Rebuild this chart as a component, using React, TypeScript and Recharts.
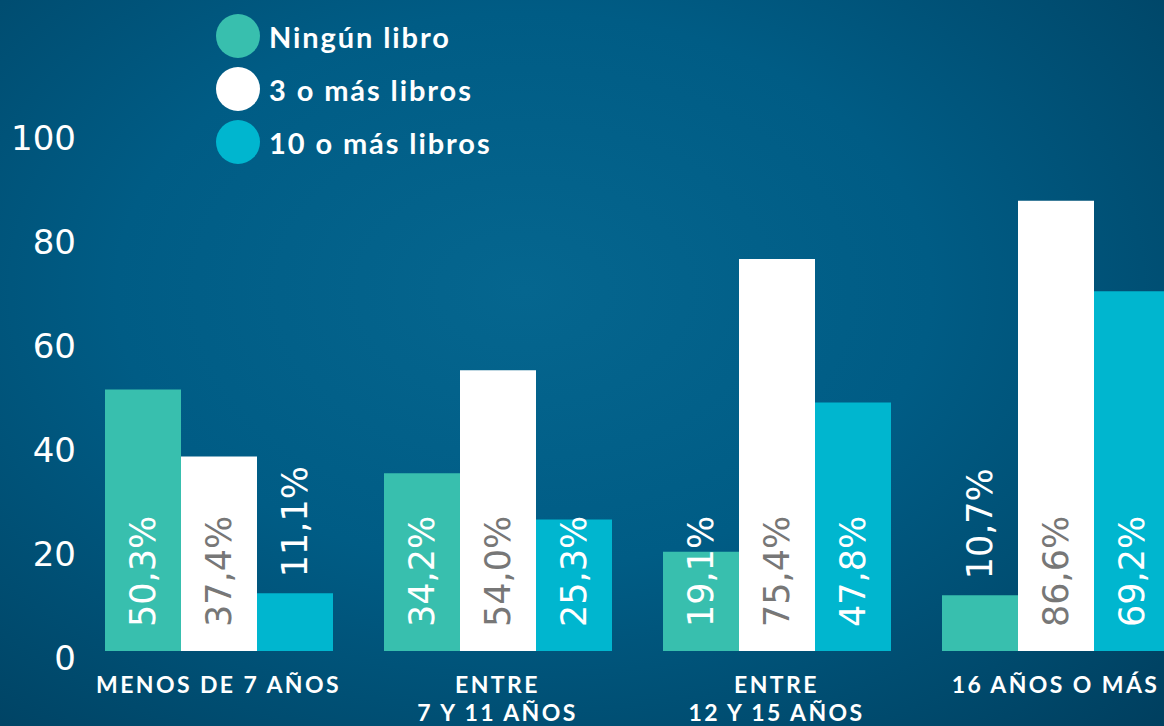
import React from 'react';
import { BarChart, Bar, XAxis, YAxis, Legend, LabelList } from 'recharts';

const categories = ['MENOS DE 7 AÑOS', 'ENTRE\n7 Y 11 AÑOS', 'ENTRE\n12 Y 15 AÑOS', '16 AÑOS O MÁS'];
const ningunLibro = [50.3, 34.2, 19.1, 10.7];
const tresOMas = [37.4, 54.0, 75.4, 86.6];
const diezOMas = [11.1, 25.3, 47.8, 69.2];
const yTicks = [0, 20, 40, 60, 80, 100];

const seriesNames = ['Ningún libro', '3 o más libros', '10 o más libros'];
const seriesColors = ['#38bfae', '#ffffff', '#00b6cf'];
const labelColors = ['#ffffff', '#777777', '#ffffff'];

const data = categories.map((name, i) => ({
  name,
  ningun: ningunLibro[i],
  tres: tresOMas[i],
  diez: diezOMas[i],
}));

const fmt = (v: number) => v.toFixed(1).replace('.', ',') + '%';

// vertical value label: near the bar base, or above the bar when the bar is short
const makeLabel = (color: string) => (props: any) => {
  const { x, y, width, height, value } = props;
  const cx = x + width / 2;
  const small = value < 15;
  const by = small ? y - 16 : y + height - 24;
  return (
    <text
      x={cx}
      y={by}
      transform={`rotate(-90 ${cx} ${by})`}
      textAnchor="start"
      dominantBaseline="central"
      fill={small ? '#ffffff' : color}
      fontSize={35}
      fontFamily="'DejaVu Sans', sans-serif"
    >
      {fmt(value)}
    </text>
  );
};

const XTick = (props: any) => {
  const { x, y, payload } = props;
  const lines = String(payload.value).split('\n');
  return (
    <text
      x={x}
      y={y + 25}
      textAnchor="middle"
      fill="#ffffff"
      fontSize={23}
      letterSpacing={2.4}
      fontFamily="Lato, sans-serif"
      fontWeight={700}
      dominantBaseline="central"
    >
      {lines.map((l, i) => (
        <tspan key={i} x={x} dy={i === 0 ? 0 : 28}>{l}</tspan>
      ))}
    </text>
  );
};

const YTick = (props: any) => {
  const { x, y, payload } = props;
  return (
    <text x={x} y={y + 7} textAnchor="end" fill="#ffffff" fontSize={34} fontFamily="'DejaVu Sans', sans-serif" dominantBaseline="central">
      {payload.value}
    </text>
  );
};

const renderLegend = () => (
  <div style={{ display: 'flex', flexDirection: 'column', gap: 9 }}>
    {seriesNames.map((n, i) => (
      <div key={n} style={{ display: 'flex', alignItems: 'center', height: 44 }}>
        <div style={{ width: 44, height: 44, borderRadius: '50%', background: seriesColors[i] }} />
        <span style={{ marginLeft: 9, color: '#fff', fontFamily: 'Lato, sans-serif', fontWeight: 700, fontSize: 29, letterSpacing: 1.9 }}>{n}</span>
      </div>
    ))}
  </div>
);

export default function App() {
  return (
    <div
      style={{
        position: 'absolute',
        top: 0,
        left: 0,
        width: 1164,
        height: 726,
        overflow: 'hidden',
        background:
          'radial-gradient(ellipse at 45% 40%, #05668f 0%, #005c85 45%, #004a6d 80%, #003f5f 100%)',
      }}
    >
      <BarChart
        width={1200}
        height={726}
        data={data}
        margin={{ top: 131, right: 5, left: 0, bottom: 0 }}
        barCategoryGap={26}
        barGap={0}
      >
        <XAxis dataKey="name" axisLine={false} tickLine={false} height={75} interval={0} tick={<XTick />} />
        <YAxis
          domain={[0, 100]}
          ticks={yTicks}
          axisLine={false}
          tickLine={false}
          tickSize={0}
          tickMargin={3}
          width={79}
          tick={<YTick />}
        />
        <Legend
          layout="vertical"
          verticalAlign="middle"
          align="center"
          content={renderLegend}
          wrapperStyle={{ top: 14, left: 216, width: 360 }}
        />
        <Bar dataKey="ningun" fill={seriesColors[0]} isAnimationActive={false}>
          <LabelList dataKey="ningun" content={makeLabel(labelColors[0])} />
        </Bar>
        <Bar dataKey="tres" fill={seriesColors[1]} isAnimationActive={false}>
          <LabelList dataKey="tres" content={makeLabel(labelColors[1])} />
        </Bar>
        <Bar dataKey="diez" fill={seriesColors[2]} isAnimationActive={false}>
          <LabelList dataKey="diez" content={makeLabel(labelColors[2])} />
        </Bar>
      </BarChart>
    </div>
  );
}
